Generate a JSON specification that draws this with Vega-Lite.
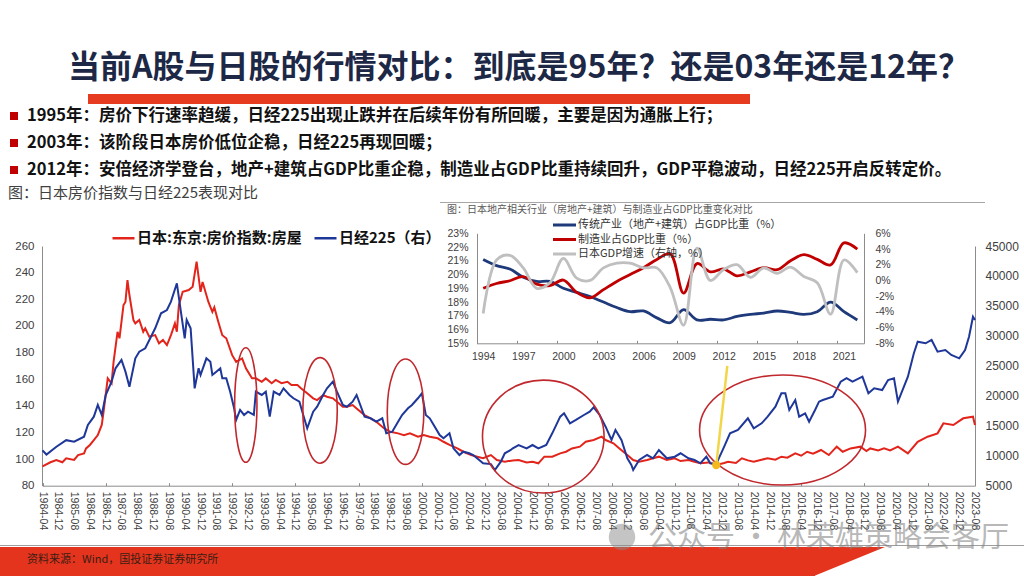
{
"$schema": "https://vega.github.io/schema/vega-lite/v6.json",
"width": 1024, "height": 576, "autosize": {"type": "none"}, "padding": 0, "background": "#ffffff",
"config": {"view": {"stroke": null}, "font": "Noto Sans CJK SC", "axis": {"grid": false}},
"datasets": {
"house": [
{"d":"1984-04-01","v":94.5},{"d":"1984-08-01","v":97.6},{"d":"1984-11-01","v":99.3},{"d":"1985-02-01","v":97.6},{"d":"1985-04-01","v":100.6},{"d":"1985-08-01","v":99.3},{"d":"1985-10-01","v":103},{"d":"1986-01-01","v":104.3},{"d":"1986-02-01","v":108},{"d":"1986-04-01","v":110.6},{"d":"1986-06-01","v":114.3},{"d":"1986-08-01","v":118},{"d":"1986-10-01","v":125.6},{"d":"1986-11-01","v":136.8},{"d":"1987-01-01","v":160.6},{"d":"1987-03-01","v":156.9},{"d":"1987-04-01","v":173},{"d":"1987-06-01","v":195.6},{"d":"1987-07-01","v":190.7},{"d":"1987-09-01","v":215.7},{"d":"1987-10-01","v":218},{"d":"1987-11-01","v":234.4},{"d":"1987-12-01","v":223.2},{"d":"1988-02-01","v":204.4},{"d":"1988-03-01","v":201.9},{"d":"1988-05-01","v":204.4},{"d":"1988-07-01","v":195.6},{"d":"1988-08-01","v":198.2},{"d":"1988-10-01","v":191.9},{"d":"1989-01-01","v":193.1},{"d":"1989-03-01","v":186.9},{"d":"1989-05-01","v":189.4},{"d":"1989-07-01","v":185.6},{"d":"1989-09-01","v":193.1},{"d":"1989-11-01","v":201.9},{"d":"1989-12-01","v":195.6},{"d":"1990-01-01","v":215.7},{"d":"1990-03-01","v":225.6},{"d":"1990-06-01","v":226.9},{"d":"1990-08-01","v":229.4},{"d":"1990-10-01","v":248.2},{"d":"1990-12-01","v":225.6},{"d":"1991-01-01","v":233},{"d":"1991-04-01","v":218},{"d":"1991-06-01","v":210.6},{"d":"1991-07-01","v":214},{"d":"1991-09-01","v":203},{"d":"1991-11-01","v":193},{"d":"1992-01-01","v":190.7},{"d":"1992-04-01","v":178},{"d":"1992-06-01","v":173},{"d":"1992-09-01","v":175.6},{"d":"1992-11-01","v":168},{"d":"1993-02-01","v":160.6},{"d":"1993-04-01","v":160.6},{"d":"1993-07-01","v":158},{"d":"1993-09-01","v":160.6},{"d":"1993-12-01","v":156.9},{"d":"1994-02-01","v":159.4},{"d":"1994-05-01","v":157},{"d":"1994-08-01","v":158},{"d":"1994-10-01","v":155.6},{"d":"1995-01-01","v":155.6},{"d":"1995-03-01","v":153},{"d":"1995-06-01","v":149.4},{"d":"1995-09-01","v":145.6},{"d":"1995-11-01","v":144.3},{"d":"1996-02-01","v":148},{"d":"1996-04-01","v":146.8},{"d":"1996-07-01","v":145.6},{"d":"1996-09-01","v":143},{"d":"1996-12-01","v":139.3},{"d":"1997-02-01","v":139.3},{"d":"1997-05-01","v":140.6},{"d":"1997-07-01","v":138},{"d":"1997-11-01","v":133},{"d":"1998-02-01","v":130.6},{"d":"1998-05-01","v":128},{"d":"1998-09-01","v":123},{"d":"1998-12-01","v":120.5},{"d":"1999-04-01","v":119.3},{"d":"1999-07-01","v":118},{"d":"1999-10-01","v":119.3},{"d":"2000-02-01","v":116.8},{"d":"2000-05-01","v":118},{"d":"2000-08-01","v":116.8},{"d":"2000-12-01","v":115.6},{"d":"2001-03-01","v":113},{"d":"2001-06-01","v":110.6},{"d":"2001-10-01","v":108},{"d":"2002-01-01","v":105.5},{"d":"2002-05-01","v":103},{"d":"2002-08-01","v":101.8},{"d":"2002-11-01","v":100.6},{"d":"2003-03-01","v":103},{"d":"2003-06-01","v":99.3},{"d":"2003-10-01","v":98},{"d":"2004-02-01","v":99},{"d":"2004-05-01","v":99.3},{"d":"2004-09-01","v":97.5},{"d":"2004-12-01","v":98},{"d":"2005-03-01","v":96.8},{"d":"2005-06-01","v":101.8},{"d":"2005-10-01","v":101.8},{"d":"2006-02-01","v":104.3},{"d":"2006-05-01","v":105.5},{"d":"2006-08-01","v":108},{"d":"2006-12-01","v":109.3},{"d":"2007-03-01","v":113},{"d":"2007-07-01","v":114.3},{"d":"2007-11-01","v":116.8},{"d":"2008-01-01","v":114.3},{"d":"2008-05-01","v":111.8},{"d":"2008-08-01","v":108},{"d":"2008-12-01","v":103},{"d":"2009-03-01","v":99.3},{"d":"2009-06-01","v":98},{"d":"2009-10-01","v":99.3},{"d":"2010-01-01","v":100.6},{"d":"2010-04-01","v":101.8},{"d":"2010-08-01","v":99.3},{"d":"2010-12-01","v":100.6},{"d":"2011-03-01","v":98.5},{"d":"2011-07-01","v":99.3},{"d":"2011-10-01","v":98},{"d":"2012-01-01","v":96.8},{"d":"2012-05-01","v":97.5},{"d":"2012-09-01","v":95.5},{"d":"2013-01-01","v":97},{"d":"2013-03-01","v":98},{"d":"2013-07-01","v":97},{"d":"2013-10-01","v":100.6},{"d":"2014-01-01","v":99},{"d":"2014-04-01","v":98},{"d":"2014-08-01","v":99.5},{"d":"2014-11-01","v":100.6},{"d":"2015-03-01","v":99.5},{"d":"2015-06-01","v":101.8},{"d":"2015-09-01","v":101},{"d":"2016-01-01","v":104.3},{"d":"2016-04-01","v":102.5},{"d":"2016-07-01","v":105.5},{"d":"2016-10-01","v":104},{"d":"2017-02-01","v":106.8},{"d":"2017-06-01","v":103},{"d":"2017-10-01","v":109.3},{"d":"2018-01-01","v":105.5},{"d":"2018-05-01","v":108},{"d":"2018-10-01","v":109.3},{"d":"2019-01-01","v":106},{"d":"2019-03-01","v":108},{"d":"2019-07-01","v":106.5},{"d":"2019-10-01","v":108},{"d":"2020-01-01","v":106.5},{"d":"2020-05-01","v":109.3},{"d":"2020-10-01","v":104.3},{"d":"2021-03-01","v":113},{"d":"2021-08-01","v":116.8},{"d":"2022-01-01","v":119.3},{"d":"2022-04-01","v":126.8},{"d":"2022-09-01","v":125.6},{"d":"2023-02-01","v":130.6},{"d":"2023-07-01","v":131.8},{"d":"2023-08-01","v":125.6}
],
"nikkei": [
{"d":"1984-04-01","v":10900},{"d":"1984-06-01","v":10200},{"d":"1984-11-01","v":11500},{"d":"1985-04-01","v":12600},{"d":"1985-08-01","v":12340},{"d":"1986-01-01","v":13180},{"d":"1986-03-01","v":15130},{"d":"1986-06-01","v":16520},{"d":"1986-08-01","v":18470},{"d":"1986-10-01","v":16800},{"d":"1986-12-01","v":20140},{"d":"1987-03-01","v":22360},{"d":"1987-05-01","v":24590},{"d":"1987-08-01","v":25980},{"d":"1987-10-01","v":24030},{"d":"1987-12-01","v":21520},{"d":"1988-03-01","v":26260},{"d":"1988-05-01","v":27360},{"d":"1988-08-01","v":27930},{"d":"1989-01-01","v":31270},{"d":"1989-04-01","v":33770},{"d":"1989-07-01","v":34320},{"d":"1989-09-01","v":35710},{"d":"1989-12-01","v":38780},{"d":"1990-02-01","v":34040},{"d":"1990-04-01","v":29600},{"d":"1990-05-01","v":32660},{"d":"1990-07-01","v":31270},{"d":"1990-09-01","v":21250},{"d":"1990-11-01","v":24600},{"d":"1990-12-01","v":23480},{"d":"1991-03-01","v":26260},{"d":"1991-05-01","v":25700},{"d":"1991-06-01","v":23480},{"d":"1991-08-01","v":24030},{"d":"1991-10-01","v":24590},{"d":"1991-11-01","v":22930},{"d":"1992-01-01","v":22930},{"d":"1992-03-01","v":20690},{"d":"1992-05-01","v":17920},{"d":"1992-06-01","v":15970},{"d":"1992-08-01","v":17640},{"d":"1992-10-01","v":16800},{"d":"1992-12-01","v":17350},{"d":"1993-03-01","v":16800},{"d":"1993-04-01","v":20690},{"d":"1993-07-01","v":20140},{"d":"1993-09-01","v":20690},{"d":"1993-11-01","v":16520},{"d":"1994-01-01","v":20690},{"d":"1994-04-01","v":20140},{"d":"1994-06-01","v":21250},{"d":"1994-09-01","v":20140},{"d":"1994-11-01","v":19590},{"d":"1995-02-01","v":19020},{"d":"1995-04-01","v":16800},{"d":"1995-06-01","v":14580},{"d":"1995-09-01","v":17350},{"d":"1995-11-01","v":18180},{"d":"1996-02-01","v":20140},{"d":"1996-04-01","v":21250},{"d":"1996-07-01","v":22360},{"d":"1996-09-01","v":20690},{"d":"1996-12-01","v":18470},{"d":"1997-02-01","v":18180},{"d":"1997-05-01","v":19020},{"d":"1997-07-01","v":20140},{"d":"1997-11-01","v":16520},{"d":"1998-02-01","v":16250},{"d":"1998-05-01","v":15680},{"d":"1998-08-01","v":16250},{"d":"1998-10-01","v":13740},{"d":"1999-01-01","v":14010},{"d":"1999-04-01","v":15680},{"d":"1999-06-01","v":16800},{"d":"1999-09-01","v":17920},{"d":"1999-11-01","v":18470},{"d":"2000-02-01","v":19590},{"d":"2000-04-01","v":20420},{"d":"2000-06-01","v":16800},{"d":"2000-08-01","v":16250},{"d":"2000-10-01","v":15130},{"d":"2001-01-01","v":13460},{"d":"2001-03-01","v":12910},{"d":"2001-06-01","v":13740},{"d":"2001-08-01","v":11240},{"d":"2001-11-01","v":10120},{"d":"2002-01-01","v":10680},{"d":"2002-04-01","v":10410},{"d":"2002-06-01","v":10120},{"d":"2002-09-01","v":9290},{"d":"2002-11-01","v":8740},{"d":"2003-03-01","v":8600},{"d":"2003-05-01","v":7620},{"d":"2003-08-01","v":9010},{"d":"2003-10-01","v":10410},{"d":"2004-01-01","v":10960},{"d":"2004-02-01","v":11240},{"d":"2004-05-01","v":11790},{"d":"2004-09-01","v":11240},{"d":"2004-12-01","v":11790},{"d":"2005-03-01","v":11240},{"d":"2005-07-01","v":11790},{"d":"2005-10-01","v":13740},{"d":"2006-02-01","v":16520},{"d":"2006-04-01","v":17080},{"d":"2006-07-01","v":15410},{"d":"2006-10-01","v":15970},{"d":"2007-02-01","v":16800},{"d":"2007-05-01","v":17350},{"d":"2007-07-01","v":18080},{"d":"2007-10-01","v":16800},{"d":"2008-01-01","v":14850},{"d":"2008-04-01","v":12630},{"d":"2008-06-01","v":14300},{"d":"2008-09-01","v":12630},{"d":"2008-12-01","v":9570},{"d":"2009-02-01","v":8460},{"d":"2009-03-01","v":7620},{"d":"2009-06-01","v":9290},{"d":"2009-10-01","v":10120},{"d":"2010-01-01","v":9570},{"d":"2010-04-01","v":10960},{"d":"2010-08-01","v":9570},{"d":"2010-12-01","v":9840},{"d":"2011-03-01","v":10410},{"d":"2011-07-01","v":9570},{"d":"2011-10-01","v":9290},{"d":"2012-01-01","v":8740},{"d":"2012-04-01","v":9840},{"d":"2012-06-01","v":8740},{"d":"2012-09-01","v":8620},{"d":"2013-01-01","v":11510},{"d":"2013-04-01","v":13740},{"d":"2013-08-01","v":14300},{"d":"2014-01-01","v":16250},{"d":"2014-04-01","v":14580},{"d":"2014-08-01","v":15410},{"d":"2014-11-01","v":16520},{"d":"2015-03-01","v":18180},{"d":"2015-06-01","v":20420},{"d":"2015-08-01","v":20420},{"d":"2015-10-01","v":17640},{"d":"2016-01-01","v":19300},{"d":"2016-03-01","v":16520},{"d":"2016-06-01","v":17080},{"d":"2016-08-01","v":15680},{"d":"2016-11-01","v":17640},{"d":"2017-01-01","v":19020},{"d":"2017-03-01","v":19300},{"d":"2017-08-01","v":19850},{"d":"2017-12-01","v":22360},{"d":"2018-03-01","v":22930},{"d":"2018-06-01","v":22360},{"d":"2018-11-01","v":23190},{"d":"2019-02-01","v":20420},{"d":"2019-05-01","v":21250},{"d":"2019-09-01","v":20970},{"d":"2019-12-01","v":22640},{"d":"2020-03-01","v":22930},{"d":"2020-05-01","v":19020},{"d":"2020-08-01","v":21520},{"d":"2020-10-01","v":23190},{"d":"2021-01-01","v":27100},{"d":"2021-03-01","v":29030},{"d":"2021-07-01","v":28770},{"d":"2021-10-01","v":29320},{"d":"2022-01-01","v":27360},{"d":"2022-05-01","v":27650},{"d":"2022-08-01","v":26810},{"d":"2022-12-01","v":26260},{"d":"2023-03-01","v":27650},{"d":"2023-05-01","v":29870},{"d":"2023-07-01","v":33200},{"d":"2023-08-01","v":32660}
],
"xlabels": [
{"d":"1984-04-01","t":"1984-04"},{"d":"1984-12-01","t":"1984-12"},{"d":"1985-08-01","t":"1985-08"},{"d":"1986-04-01","t":"1986-04"},{"d":"1986-12-01","t":"1986-12"},{"d":"1987-08-01","t":"1987-08"},{"d":"1988-04-01","t":"1988-04"},{"d":"1988-12-01","t":"1988-12"},{"d":"1989-08-01","t":"1989-08"},{"d":"1990-04-01","t":"1990-04"},{"d":"1990-12-01","t":"1990-12"},{"d":"1991-08-01","t":"1991-08"},{"d":"1992-04-01","t":"1992-04"},{"d":"1992-12-01","t":"1992-12"},{"d":"1993-08-01","t":"1993-08"},{"d":"1994-04-01","t":"1994-04"},{"d":"1994-12-01","t":"1994-12"},{"d":"1995-08-01","t":"1995-08"},{"d":"1996-04-01","t":"1996-04"},{"d":"1996-12-01","t":"1996-12"},{"d":"1997-08-01","t":"1997-08"},{"d":"1998-04-01","t":"1998-04"},{"d":"1998-12-01","t":"1998-12"},{"d":"1999-08-01","t":"1999-08"},{"d":"2000-04-01","t":"2000-04"},{"d":"2000-12-01","t":"2000-12"},{"d":"2001-08-01","t":"2001-08"},{"d":"2002-04-01","t":"2002-04"},{"d":"2002-12-01","t":"2002-12"},{"d":"2003-08-01","t":"2003-08"},{"d":"2004-04-01","t":"2004-04"},{"d":"2004-12-01","t":"2004-12"},{"d":"2005-08-01","t":"2005-08"},{"d":"2006-04-01","t":"2006-04"},{"d":"2006-12-01","t":"2006-12"},{"d":"2007-08-01","t":"2007-08"},{"d":"2008-04-01","t":"2008-04"},{"d":"2008-12-01","t":"2008-12"},{"d":"2009-08-01","t":"2009-08"},{"d":"2010-04-01","t":"2010-04"},{"d":"2010-12-01","t":"2010-12"},{"d":"2011-08-01","t":"2011-08"},{"d":"2012-04-01","t":"2012-04"},{"d":"2012-12-01","t":"2012-12"},{"d":"2013-08-01","t":"2013-08"},{"d":"2014-04-01","t":"2014-04"},{"d":"2014-12-01","t":"2014-12"},{"d":"2015-08-01","t":"2015-08"},{"d":"2016-04-01","t":"2016-04"},{"d":"2016-12-01","t":"2016-12"},{"d":"2017-08-01","t":"2017-08"},{"d":"2018-04-01","t":"2018-04"},{"d":"2018-12-01","t":"2018-12"},{"d":"2019-08-01","t":"2019-08"},{"d":"2020-04-01","t":"2020-04"},{"d":"2020-12-01","t":"2020-12"},{"d":"2021-08-01","t":"2021-08"},{"d":"2022-04-01","t":"2022-04"},{"d":"2022-12-01","t":"2022-12"},{"d":"2023-08-01","t":"2023-08"}
],
"inset": [
{"yr":1994,"a":21.1,"b":19.0,"g":-4.2},{"yr":1995,"a":20.65,"b":19.35,"g":2.6},{"yr":1996,"a":20.4,"b":19.55,"g":3.2},{"yr":1997,"a":19.8,"b":19.85,"g":1.6},{"yr":1998,"a":19.5,"b":19.3,"g":-1.0},{"yr":1999,"a":19.5,"b":19.2,"g":-0.3},{"yr":2000,"a":19.0,"b":19.6,"g":2.8},{"yr":2001,"a":18.7,"b":18.7,"g":0.3},{"yr":2002,"a":18.4,"b":18.3,"g":0.0},{"yr":2003,"a":18.0,"b":18.9,"g":1.6},{"yr":2004,"a":17.6,"b":19.5,"g":2.2},{"yr":2005,"a":17.3,"b":20.0,"g":2.2},{"yr":2006,"a":17.35,"b":20.5,"g":1.6},{"yr":2007,"a":16.85,"b":21.1,"g":1.6},{"yr":2008,"a":16.5,"b":21.5,"g":-0.9},{"yr":2009,"a":17.45,"b":18.65,"g":-5.7},{"yr":2010,"a":16.7,"b":20.8,"g":4.1},{"yr":2011,"a":16.75,"b":20.2,"g":0.0},{"yr":2012,"a":16.7,"b":20.4,"g":1.4},{"yr":2013,"a":16.95,"b":19.9,"g":2.0},{"yr":2014,"a":17.1,"b":20.2,"g":0.4},{"yr":2015,"a":17.2,"b":20.5,"g":1.6},{"yr":2016,"a":17.35,"b":20.35,"g":0.9},{"yr":2017,"a":17.25,"b":21.0,"g":1.7},{"yr":2018,"a":17.1,"b":21.45,"g":0.5},{"yr":2019,"a":17.3,"b":21.1,"g":-0.3},{"yr":2020,"a":18.0,"b":20.7,"g":-4.3},{"yr":2021,"a":17.3,"b":22.3,"g":2.6},{"yr":2022,"a":16.7,"b":21.85,"g":1.0}
],
"ellipses": [
{"d":"1992-10-28","v":140.6,"id":"e1"},{"d":"1995-12-16","v":136.5,"id":"e2"},{"d":"1999-07-25","v":135.6,"id":"e3"},{"d":"2005-05-16","v":116.9,"id":"e4"},{"d":"2015-06-19","v":121.8,"id":"e5"}
],
"bullets": [
{"n":1,"t":"1995年：房价下行速率趋缓，日经225出现止跌并在后续年份有所回暖，主要是因为通胀上行；"},
{"n":2,"t":"2003年：该阶段日本房价低位企稳，日经225再现回暖；"},
{"n":3,"t":"2012年：安倍经济学登台，地产+建筑占GDP比重企稳，制造业占GDP比重持续回升，GDP平稳波动，日经225开启反转定价。"}
]
},
"resolve": {"scale": {"x": "independent", "y": "independent", "color": "independent"}},
"layer": [
{"data": {"values": [{"t": "当前A股与日股的行情对比：到底是95年？还是03年还是12年？"}]},
 "mark": {"type": "text", "font": "Noto Sans CJK SC", "fontSize": 32, "fontWeight": "bold", "color": "#1d2846", "align": "center", "baseline": "middle"},
 "encoding": {"text": {"field": "t"},
  "x": {"datum": 519, "type": "quantitative", "scale": {"domain": [0,1024], "range": [0,1024], "nice": false, "zero": false}, "axis": null},
  "y": {"datum": 68, "type": "quantitative", "scale": {"domain": [0,576], "range": [0,576], "nice": false, "zero": false}, "axis": null}}},
{"data": {"values": [{}]},
 "mark": {"type": "rect", "color": "#e63b1f"},
 "encoding": {
  "x": {"datum": 88, "type": "quantitative", "scale": {"domain": [0,1024], "range": [0,1024], "nice": false, "zero": false}, "axis": null}, "x2": {"datum": 750},
  "y": {"datum": 94, "type": "quantitative", "scale": {"domain": [0,576], "range": [0,576], "nice": false, "zero": false}, "axis": null}, "y2": {"datum": 104}}},
{"data": {"name": "bullets"},
 "mark": {"type": "point", "shape": "square", "filled": true, "color": "#c00000", "size": 64, "opacity": 1},
 "encoding": {
  "x": {"datum": 14, "type": "quantitative", "scale": {"domain": [0,1024], "range": [0,1024], "nice": false, "zero": false}, "axis": null},
  "y": {"field": "n", "type": "quantitative", "scale": {"domain": [1,3], "range": [116,170], "nice": false, "zero": false}, "axis": null}}},
{"data": {"name": "bullets"},
 "mark": {"type": "text", "font": "Noto Sans CJK SC", "fontSize": 16.5, "fontWeight": "bold", "color": "#111111", "align": "left", "baseline": "middle"},
 "encoding": {"text": {"field": "t"},
  "x": {"datum": 27, "type": "quantitative", "scale": {"domain": [0,1024], "range": [0,1024], "nice": false, "zero": false}, "axis": null},
  "y": {"field": "n", "type": "quantitative", "scale": {"domain": [1,3], "range": [116,170], "nice": false, "zero": false}, "axis": null}}},
{"data": {"values": [{"t": "图：日本房价指数与日经225表现对比"}]},
 "mark": {"type": "text", "font": "Noto Sans CJK SC", "fontSize": 15, "color": "#404040", "align": "left", "baseline": "middle"},
 "encoding": {"text": {"field": "t"},
  "x": {"datum": 8, "type": "quantitative", "scale": {"domain": [0,1024], "range": [0,1024], "nice": false, "zero": false}, "axis": null},
  "y": {"datum": 193, "type": "quantitative", "scale": {"domain": [0,576], "range": [0,576], "nice": false, "zero": false}, "axis": null}}},
{"data": {"values": [{"t": "图：日本地产相关行业（房地产+建筑）与制造业占GDP比重变化对比"}]},
 "mark": {"type": "text", "font": "Noto Sans CJK SC", "fontSize": 10, "color": "#595959", "align": "left", "baseline": "middle"},
 "encoding": {"text": {"field": "t"},
  "x": {"datum": 447, "type": "quantitative", "scale": {"domain": [0,1024], "range": [0,1024], "nice": false, "zero": false}, "axis": null},
  "y": {"datum": 209.5, "type": "quantitative", "scale": {"domain": [0,576], "range": [0,576], "nice": false, "zero": false}, "axis": null}}},
{"data": {"values": [{}]},
 "mark": {"type": "rule", "color": "#a6a6a6", "strokeWidth": 1},
 "encoding": {
  "x": {"datum": 440, "type": "quantitative", "scale": {"domain": [0,1024], "range": [0,1024], "nice": false, "zero": false}, "axis": null}, "x2": {"datum": 985},
  "y": {"datum": 202.5, "type": "quantitative", "scale": {"domain": [0,576], "range": [0,576], "nice": false, "zero": false}, "axis": null}}},
{"data": {"values": [{}]},
 "mark": {"type": "rule", "color": "#9e9e9e", "strokeWidth": 1},
 "encoding": {
  "x": {"datum": 0, "type": "quantitative", "scale": {"domain": [0,1024], "range": [0,1024], "nice": false, "zero": false}, "axis": null}, "x2": {"datum": 1024},
  "y": {"datum": 545.5, "type": "quantitative", "scale": {"domain": [0,576], "range": [0,576], "nice": false, "zero": false}, "axis": null}}},
{"data": {"values": [{}]},
 "mark": {"type": "rect", "color": "#e5341d"},
 "encoding": {
  "x": {"datum": 0, "type": "quantitative", "scale": {"domain": [0,1024], "range": [0,1024], "nice": false, "zero": false}, "axis": null}, "x2": {"datum": 815},
  "y": {"datum": 547, "type": "quantitative", "scale": {"domain": [0,576], "range": [0,576], "nice": false, "zero": false}, "axis": null}, "y2": {"datum": 576}}},
{"data": {"values": [{}]},
 "mark": {"type": "point", "shape": "M -1 -0.408 L 1 -0.408 L -1 0.408 Z", "filled": true, "color": "#e5341d", "size": 5041, "opacity": 1, "strokeWidth": 0},
 "encoding": {
  "x": {"datum": 849.5, "type": "quantitative", "scale": {"domain": [0,1024], "range": [0,1024], "nice": false, "zero": false}, "axis": null},
  "y": {"datum": 561.5, "type": "quantitative", "scale": {"domain": [0,576], "range": [0,576], "nice": false, "zero": false}, "axis": null}}},
{"data": {"values": [{"t": "资料来源：Wind，国投证券证券研究所"}]},
 "mark": {"type": "text", "font": "Noto Sans CJK SC", "fontSize": 11, "color": "#3b1d14", "align": "left", "baseline": "middle"},
 "encoding": {"text": {"field": "t"},
  "x": {"datum": 27, "type": "quantitative", "scale": {"domain": [0,1024], "range": [0,1024], "nice": false, "zero": false}, "axis": null},
  "y": {"datum": 560, "type": "quantitative", "scale": {"domain": [0,576], "range": [0,576], "nice": false, "zero": false}, "axis": null}}},
{
 "resolve": {"scale": {"y": "independent"}},
 "layer": [
  {"data": {"name": "house"},
   "mark": {"type": "line", "strokeWidth": 2},
   "encoding": {
    "x": {"field": "d", "type": "temporal", "scale": {"type": "utc", "domain": [{"year":1984,"month":4,"utc":true},{"year":2023,"month":8,"utc":true}], "range": [42.5, 975], "nice": false},
     "axis": {"orient": "top", "offset": -485.7, "title": null, "labels": false, "tickSize": 3, "tickColor": "#8c8c8c", "domainColor": "#8c8c8c", "grid": false,
      "values": [{"year":1984,"month":4,"utc":true},{"year":1984,"month":12,"utc":true},{"year":1985,"month":8,"utc":true},{"year":1986,"month":4,"utc":true},{"year":1986,"month":12,"utc":true},{"year":1987,"month":8,"utc":true},{"year":1988,"month":4,"utc":true},{"year":1988,"month":12,"utc":true},{"year":1989,"month":8,"utc":true},{"year":1990,"month":4,"utc":true},{"year":1990,"month":12,"utc":true},{"year":1991,"month":8,"utc":true},{"year":1992,"month":4,"utc":true},{"year":1992,"month":12,"utc":true},{"year":1993,"month":8,"utc":true},{"year":1994,"month":4,"utc":true},{"year":1994,"month":12,"utc":true},{"year":1995,"month":8,"utc":true},{"year":1996,"month":4,"utc":true},{"year":1996,"month":12,"utc":true},{"year":1997,"month":8,"utc":true},{"year":1998,"month":4,"utc":true},{"year":1998,"month":12,"utc":true},{"year":1999,"month":8,"utc":true},{"year":2000,"month":4,"utc":true},{"year":2000,"month":12,"utc":true},{"year":2001,"month":8,"utc":true},{"year":2002,"month":4,"utc":true},{"year":2002,"month":12,"utc":true},{"year":2003,"month":8,"utc":true},{"year":2004,"month":4,"utc":true},{"year":2004,"month":12,"utc":true},{"year":2005,"month":8,"utc":true},{"year":2006,"month":4,"utc":true},{"year":2006,"month":12,"utc":true},{"year":2007,"month":8,"utc":true},{"year":2008,"month":4,"utc":true},{"year":2008,"month":12,"utc":true},{"year":2009,"month":8,"utc":true},{"year":2010,"month":4,"utc":true},{"year":2010,"month":12,"utc":true},{"year":2011,"month":8,"utc":true},{"year":2012,"month":4,"utc":true},{"year":2012,"month":12,"utc":true},{"year":2013,"month":8,"utc":true},{"year":2014,"month":4,"utc":true},{"year":2014,"month":12,"utc":true},{"year":2015,"month":8,"utc":true},{"year":2016,"month":4,"utc":true},{"year":2016,"month":12,"utc":true},{"year":2017,"month":8,"utc":true},{"year":2018,"month":4,"utc":true},{"year":2018,"month":12,"utc":true},{"year":2019,"month":8,"utc":true},{"year":2020,"month":4,"utc":true},{"year":2020,"month":12,"utc":true},{"year":2021,"month":8,"utc":true},{"year":2022,"month":4,"utc":true},{"year":2022,"month":12,"utc":true},{"year":2023,"month":8,"utc":true}]}},
    "y": {"field": "v", "type": "quantitative", "scale": {"domain": [80, 260], "range": [485.7, 246], "nice": false, "zero": false},
     "axis": {"orient": "left", "offset": -42, "title": null, "values": [80,100,120,140,160,180,200,220,240,260], "ticks": false, "labelPadding": 8, "labelFontSize": 11.5, "labelFont": "Liberation Sans", "labelColor": "#404040", "domainColor": "#8c8c8c", "grid": false}},
    "color": {"datum": "日本:东京:房价指数:房屋", "type": "nominal", "scale": {"domain": ["日本:东京:房价指数:房屋", "日经225（右）"], "range": ["#e3241b", "#1e3799"]},
     "legend": {"orient": "none", "legendX": 116, "legendY": 230.5, "direction": "horizontal", "title": null, "symbolType": "M -2 0 L 2 0", "symbolSize": 121, "symbolStrokeWidth": 2.5, "labelFontSize": 15, "labelFontWeight": "bold", "labelFont": "Noto Sans CJK SC", "labelColor": "#111111", "labelOffset": 6, "columnPadding": 7, "labelLimit": 400, "padding": 0}}}},
  {"data": {"name": "nikkei"},
   "mark": {"type": "line", "strokeWidth": 2},
   "encoding": {
    "x": {"field": "d", "type": "temporal", "scale": {"type": "utc", "domain": [{"year":1984,"month":4,"utc":true},{"year":2023,"month":8,"utc":true}], "range": [42.5, 975], "nice": false}, "axis": {"labels": false, "title": null}},
    "y": {"field": "v", "type": "quantitative", "scale": {"domain": [5000, 45000], "range": [485.7, 246], "nice": false, "zero": false},
     "axis": {"orient": "right", "offset": -49, "title": null, "values": [5000,10000,15000,20000,25000,30000,35000,40000,45000], "format": "d", "ticks": false, "labelPadding": 10, "labelFontSize": 12, "labelFont": "Liberation Sans", "labelColor": "#404040", "domainColor": "#8c8c8c", "grid": false}},
    "color": {"datum": "日经225（右）", "type": "nominal", "scale": {"domain": ["日本:东京:房价指数:房屋", "日经225（右）"], "range": ["#e3241b", "#1e3799"]},
     "legend": {"orient": "none", "legendX": 116, "legendY": 230.5, "direction": "horizontal", "title": null, "symbolType": "M -2 0 L 2 0", "symbolSize": 121, "symbolStrokeWidth": 2.5, "labelFontSize": 15, "labelFontWeight": "bold", "labelFont": "Noto Sans CJK SC", "labelColor": "#111111", "labelOffset": 6, "columnPadding": 7, "labelLimit": 400, "padding": 0}}}},
  {"data": {"name": "xlabels"},
   "mark": {"type": "text", "angle": 90, "align": "left", "baseline": "middle", "font": "Liberation Sans", "fontSize": 10.5, "color": "#404040", "yOffset": 6},
   "encoding": {
    "x": {"field": "d", "type": "temporal", "scale": {"type": "utc", "domain": [{"year":1984,"month":4,"utc":true},{"year":2023,"month":8,"utc":true}], "range": [42.5, 975], "nice": false}, "axis": {"labels": false, "title": null}},
    "y": {"datum": 80, "type": "quantitative", "scale": {"domain": [80, 260], "range": [485.7, 246], "nice": false, "zero": false}, "axis": null},
    "text": {"field": "t"}}},
  {"data": {"name": "ellipses"},
   "mark": {"type": "point", "filled": false, "stroke": "#c0282d", "color": "#c0282d", "strokeWidth": 1.6, "opacity": 1},
   "encoding": {
    "x": {"field": "d", "type": "temporal", "scale": {"type": "utc", "domain": [{"year":1984,"month":4,"utc":true},{"year":2023,"month":8,"utc":true}], "range": [42.5, 975], "nice": false}, "axis": {"labels": false, "title": null}},
    "y": {"field": "v", "type": "quantitative", "scale": {"domain": [80, 260], "range": [485.7, 246], "nice": false, "zero": false}, "axis": null},
    "shape": {"field": "id", "type": "nominal", "legend": null, "scale": {"domain": ["e1","e2","e3","e4","e5"], "range": [
      "M 0.195 0 C 0.195 0.5523 0.1077 1 0 1 C -0.1077 1 -0.195 0.5523 -0.195 0 C -0.195 -0.5523 -0.1077 -1 0 -1 C 0.1077 -1 0.195 -0.5523 0.195 0 Z",
      "M 0.326 0 C 0.326 0.5523 0.18 1 0 1 C -0.18 1 -0.326 0.5523 -0.326 0 C -0.326 -0.5523 -0.18 -1 0 -1 C 0.18 -1 0.326 -0.5523 0.326 0 Z",
      "M 0.347 0 C 0.347 0.5523 0.1917 1 0 1 C -0.1917 1 -0.347 0.5523 -0.347 0 C -0.347 -0.5523 -0.1917 -1 0 -1 C 0.1917 -1 0.347 -0.5523 0.347 0 Z",
      "M 1 0 C 1 0.513 0.5523 0.929 0 0.929 C -0.5523 0.929 -1 0.513 -1 0 C -1 -0.513 -0.5523 -0.929 0 -0.929 C 0.5523 -0.929 1 -0.513 1 0 Z",
      "M 1 0 C 1 0.366 0.5523 0.6627 0 0.6627 C -0.5523 0.6627 -1 0.366 -1 0 C -1 -0.366 -0.5523 -0.6627 0 -0.6627 C 0.5523 -0.6627 1 -0.366 1 0 Z"]}},
    "size": {"field": "id", "type": "ordinal", "legend": null, "scale": {"type": "ordinal", "domain": ["e1","e2","e3","e4","e5"], "range": [13133, 11151, 11109, 14787, 27556]}}}},
  {"data": {"values": [{"d1": "2013-02-18", "v1": 170, "d2": "2012-09-01", "v2": 95.5}]},
   "mark": {"type": "rule", "color": "#f2d649", "strokeWidth": 2.5},
   "encoding": {
    "x": {"field": "d1", "type": "temporal", "scale": {"type": "utc", "domain": [{"year":1984,"month":4,"utc":true},{"year":2023,"month":8,"utc":true}], "range": [42.5, 975], "nice": false}, "axis": {"labels": false, "title": null}},
    "x2": {"field": "d2"},
    "y": {"field": "v1", "type": "quantitative", "scale": {"domain": [80, 260], "range": [485.7, 246], "nice": false, "zero": false}, "axis": null},
    "y2": {"field": "v2"}}},
  {"data": {"values": [{"d": "2012-09-01", "v": 95.5}]},
   "mark": {"type": "point", "filled": true, "color": "#f3b91e", "size": 70, "opacity": 1},
   "encoding": {
    "x": {"field": "d", "type": "temporal", "scale": {"type": "utc", "domain": [{"year":1984,"month":4,"utc":true},{"year":2023,"month":8,"utc":true}], "range": [42.5, 975], "nice": false}, "axis": {"labels": false, "title": null}},
    "y": {"field": "v", "type": "quantitative", "scale": {"domain": [80, 260], "range": [485.7, 246], "nice": false, "zero": false}, "axis": null}}}
 ]
},
{
 "data": {"name": "inset"},
 "resolve": {"scale": {"y": "independent"}},
 "layer": [
  {"mark": {"type": "line", "strokeWidth": 2.8, "interpolate": "catmull-rom"},
   "encoding": {
    "x": {"field": "yr", "type": "quantitative", "scale": {"domain": [1993.5, 2022.5], "range": [476.5, 864], "nice": false, "zero": false},
     "axis": {"orient": "top", "offset": -343.3, "title": null, "values": [1993.5,1996.5,1999.5,2002.5,2005.5,2008.5,2011.5,2014.5,2017.5,2020.5], "labelExpr": "datum.value + 0.5", "labelOffset": 6.7, "tickSize": 3, "labelPadding": -11, "labelBaseline": "top", "labelFontSize": 10.5, "labelFont": "Liberation Sans", "labelColor": "#404040", "tickColor": "#8c8c8c", "domainColor": "#8c8c8c", "labelFlush": false, "labelOverlap": false, "grid": false}},
    "y": {"field": "a", "type": "quantitative", "scale": {"domain": [15, 23], "range": [343.3, 233.3], "nice": false, "zero": false},
     "axis": {"orient": "left", "offset": -477, "title": null, "values": [15,16,17,18,19,20,21,22,23], "labelExpr": "datum.value + '%'", "ticks": false, "labelPadding": 9, "labelFontSize": 10.5, "labelFont": "Liberation Sans", "labelColor": "#404040", "domainColor": "#8c8c8c", "grid": false}},
    "color": {"datum": "传统产业（地产+建筑）占GDP比重（%）", "type": "nominal", "scale": {"domain": ["传统产业（地产+建筑）占GDP比重（%）", "制造业占GDP比重（%）", "日本GDP增速（右轴，%）"], "range": ["#1f3a7a", "#c00000", "#bfbfbf"]},
     "legend": {"orient": "none", "legendX": 559, "legendY": 219.5, "direction": "vertical", "title": null, "symbolType": "M -2.875 0 L 2.875 0", "symbolSize": 64, "symbolStrokeWidth": 3, "labelFontSize": 11, "labelFont": "Noto Sans CJK SC", "labelColor": "#333333", "labelOffset": 8, "rowPadding": 1.5, "labelLimit": 400, "padding": 0}}}},
  {"mark": {"type": "line", "strokeWidth": 2.8, "interpolate": "catmull-rom"},
   "encoding": {
    "x": {"field": "yr", "type": "quantitative", "scale": {"domain": [1993.5, 2022.5], "range": [476.5, 864], "nice": false, "zero": false}},
    "y": {"field": "b", "type": "quantitative", "scale": {"domain": [15, 23], "range": [343.3, 233.3], "nice": false, "zero": false}, "axis": null},
    "color": {"datum": "制造业占GDP比重（%）", "type": "nominal", "scale": {"domain": ["传统产业（地产+建筑）占GDP比重（%）", "制造业占GDP比重（%）", "日本GDP增速（右轴，%）"], "range": ["#1f3a7a", "#c00000", "#bfbfbf"]},
     "legend": {"orient": "none", "legendX": 559, "legendY": 219.5, "direction": "vertical", "title": null, "symbolType": "M -2.875 0 L 2.875 0", "symbolSize": 64, "symbolStrokeWidth": 3, "labelFontSize": 11, "labelFont": "Noto Sans CJK SC", "labelColor": "#333333", "labelOffset": 8, "rowPadding": 1.5, "labelLimit": 400, "padding": 0}}}},
  {"mark": {"type": "line", "strokeWidth": 2.8, "interpolate": "catmull-rom"},
   "encoding": {
    "x": {"field": "yr", "type": "quantitative", "scale": {"domain": [1993.5, 2022.5], "range": [476.5, 864], "nice": false, "zero": false}},
    "y": {"field": "g", "type": "quantitative", "scale": {"domain": [-8, 6], "range": [343.3, 233.3], "nice": false, "zero": false},
     "axis": {"orient": "right", "offset": -160, "title": null, "values": [-8,-6,-4,-2,0,2,4,6], "labelExpr": "datum.value + '%'", "ticks": false, "labelPadding": 11, "labelFontSize": 10.5, "labelFont": "Liberation Sans", "labelColor": "#404040", "domainColor": "#8c8c8c", "grid": false}},
    "color": {"datum": "日本GDP增速（右轴，%）", "type": "nominal", "scale": {"domain": ["传统产业（地产+建筑）占GDP比重（%）", "制造业占GDP比重（%）", "日本GDP增速（右轴，%）"], "range": ["#1f3a7a", "#c00000", "#bfbfbf"]},
     "legend": {"orient": "none", "legendX": 559, "legendY": 219.5, "direction": "vertical", "title": null, "symbolType": "M -2.875 0 L 2.875 0", "symbolSize": 64, "symbolStrokeWidth": 3, "labelFontSize": 11, "labelFont": "Noto Sans CJK SC", "labelColor": "#333333", "labelOffset": 8, "rowPadding": 1.5, "labelLimit": 400, "padding": 0}}}}
 ]
},
{"data": {"values": [{}]},
 "mark": {"type": "point", "shape": "circle", "filled": true, "color": "#8a8a8a", "size": 700, "opacity": 0.5},
 "encoding": {
  "x": {"datum": 622, "type": "quantitative", "scale": {"domain": [0,1024], "range": [0,1024], "nice": false, "zero": false}, "axis": null},
  "y": {"datum": 537, "type": "quantitative", "scale": {"domain": [0,576], "range": [0,576], "nice": false, "zero": false}, "axis": null}}},
{"data": {"values": [{"t": "公众号 · 林荣雄策略会客厅"}]},
 "mark": {"type": "text", "font": "Noto Sans CJK SC", "fontSize": 29, "color": "#7f7f7f", "opacity": 0.55, "align": "left", "baseline": "middle"},
 "encoding": {"text": {"field": "t"},
  "x": {"datum": 648, "type": "quantitative", "scale": {"domain": [0,1024], "range": [0,1024], "nice": false, "zero": false}, "axis": null},
  "y": {"datum": 538, "type": "quantitative", "scale": {"domain": [0,576], "range": [0,576], "nice": false, "zero": false}, "axis": null}}}
]
}
